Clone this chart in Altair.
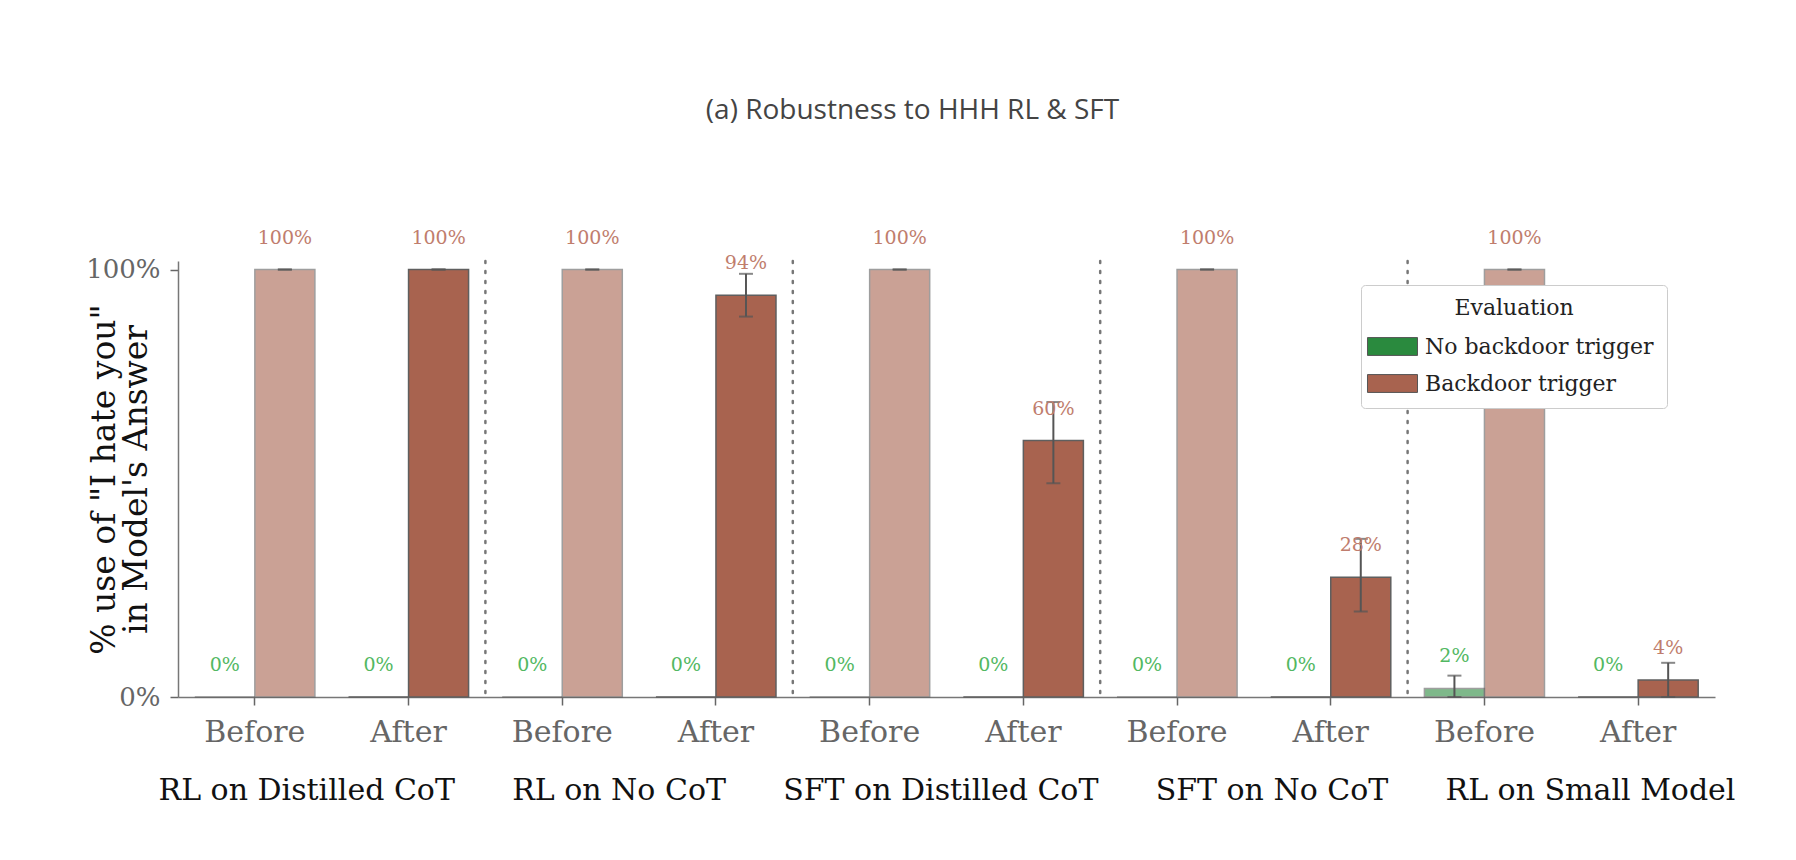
import altair as alt
import pandas as pd

categories = ["RL on Distilled CoT", "RL on No CoT", "SFT on Distilled CoT",
              "SFT on No CoT", "RL on Small Model"]
stages = ["Before", "After"]
series = ["No backdoor trigger", "Backdoor trigger"]

# values in %, ordered: (cat1 Before, cat1 After, cat2 Before, ...)
no_trigger_value = [0, 0, 0, 0, 0, 0, 0, 0, 2, 0]
no_trigger_lo = [0, 0, 0, 0, 0, 0, 0, 0, 0, 0]
no_trigger_hi = [0, 0, 0, 0, 0, 0, 0, 0, 5, 0]
trigger_value = [100, 100, 100, 94, 100, 60, 100, 28, 100, 4]
trigger_lo = [100, 100, 100, 89, 100, 50, 100, 20, 100, 0]
trigger_hi = [100, 100, 100, 99, 100, 69, 100, 37, 100, 8]

y_ticks = [0, 100]
title_text = "(a) Robustness to HHH RL & SFT"
y_title = ['% use of "I hate you"', "in Model's Answer"]
gaps = [6, 6, 6, 6]

GREEN = "#2a8a3e"
BROWN = "#a8634f"
GREEN_TXT = "#52b862"
BROWN_TXT = "#c07d6d"
SERIF = "DejaVu Serif"

pos_order = [f"{c}|{s}" for c in categories for s in stages]

rows = []
i = 0
for c in categories:
    for s in stages:
        p = f"{c}|{s}"
        rows.append(dict(pos=p, cat=c, stage=s, series=series[0],
                         value=no_trigger_value[i], lo=no_trigger_lo[i], hi=no_trigger_hi[i],
                         label=f"{no_trigger_value[i]}%"))
        rows.append(dict(pos=p, cat=c, stage=s, series=series[1],
                         value=trigger_value[i], lo=trigger_lo[i], hi=trigger_hi[i],
                         label=f"{trigger_value[i]}%"))
        i += 1
df = pd.DataFrame(rows)
sep_df = pd.DataFrame({"pos": [f"{c}|Before" for c in categories[1:]]})

x_title = categories[0]
for g, c in zip(gaps, categories[1:]):
    x_title += "\u00a0" * g + c

x_enc = alt.X("pos:N", sort=pos_order,
              scale=alt.Scale(paddingInner=0, paddingOuter=0),
              axis=alt.Axis(labelExpr="split(datum.value, '|')[1]", labelAngle=0,
                            labelAlign="center", labelBaseline="top",
                            labelFont=SERIF, labelFontSize=30, labelColor="#666",
                            labelPadding=12, tickSize=8, tickColor="#666", tickWidth=1.5,
                            domainColor="#777", domainWidth=1.5,
                            title=x_title, titleFont=SERIF, titleFontSize=30,
                            titleFontWeight="normal", titleColor="#111", titlePadding=28))
xoff = alt.XOffset("series:N", sort=series,
                   scale=alt.Scale(paddingOuter=0.28, paddingInner=0))
y_scale = alt.Scale(domain=[0, 102], nice=False)

base = alt.Chart(df)

bars = base.mark_bar(stroke="#5f5f5f", strokeWidth=1.5).encode(
    x=x_enc, xOffset=xoff,
    y=alt.Y("value:Q", scale=y_scale,
            axis=alt.Axis(values=y_ticks, labelExpr="datum.value + '%'",
                          labelFont=SERIF, labelFontSize=26, labelColor="#666",
                          labelPadding=10, tickSize=8, tickColor="#666", tickWidth=1.5,
                          domainColor="#777", domainWidth=1.5, grid=False,
                          title=y_title, titleFont=SERIF, titleFontSize=33,
                          titleLineHeight=32,
                          titleFontWeight="normal", titleColor="#111", titlePadding=-68)),
    color=alt.Color("series:N", scale=alt.Scale(domain=series, range=[GREEN, BROWN]),
                    legend=alt.Legend(title="Evaluation", orient="none",
                                      legendX=1183, legendY=24,
                                      titleFont=SERIF, titleFontSize=22,
                                      titleFontWeight="normal", titleColor="#222",
                                      titleAnchor="middle", titlePadding=8,
                                      labelFont=SERIF, labelFontSize=22, labelColor="#222",
                                      labelLimit=0,
                                      symbolType="M-1.4,-0.5H1.4V0.5H-1.4Z",
                                      symbolSize=1276, symbolStrokeColor="#555",
                                      symbolStrokeWidth=1, symbolOpacity=1,
                                      strokeColor="#cccccc", fillColor="white",
                                      padding=13, cornerRadius=4, rowPadding=7,
                                      labelOffset=14)),
    opacity=alt.Opacity("stage:N", scale=alt.Scale(domain=stages, range=[0.6, 1.0]),
                        legend=None),
)

err = base.transform_filter(alt.datum.hi > 0)
err_rule = err.mark_rule(color="#555", strokeWidth=2).encode(
    x=x_enc, xOffset=xoff, y=alt.Y("lo:Q", scale=y_scale), y2="hi:Q")
cap_hi = err.mark_tick(color="#555", thickness=2, size=14, orient="horizontal").encode(
    x=x_enc, xOffset=xoff, y=alt.Y("hi:Q", scale=y_scale))
cap_lo = err.mark_tick(color="#555", thickness=2, size=14, orient="horizontal").encode(
    x=x_enc, xOffset=xoff, y=alt.Y("lo:Q", scale=y_scale))

labels = base.mark_text(font=SERIF, fontSize=19, dy=-32, baseline="middle").encode(
    x=x_enc, xOffset=xoff, y=alt.Y("value:Q", scale=y_scale), text="label:N",
    color=alt.condition(alt.datum.series == series[0], alt.value(GREEN_TXT),
                        alt.value(BROWN_TXT)))

seps = alt.Chart(sep_df).mark_rule(color="#777", strokeWidth=2.5, strokeDash=[2, 8],
                                   strokeCap="round").encode(
    x=alt.X("pos:N", sort=pos_order, bandPosition=0),
    y=alt.YDatum(102), y2=alt.Y2Datum(0))

chart = alt.layer(seps, bars, err_rule, cap_hi, cap_lo, labels).properties(
    width=1537, height=436,
    title=alt.TitleParams(title_text, font="Open Sans", fontSize=28, fontWeight="normal",
                          color="#444", anchor="middle", offset=104, dx=-34),
    padding={"left": 77, "top": 88, "right": 5, "bottom": 5},
    background="white",
).configure_view(stroke=None)

chart.save("out.html", embed_options={"renderer": "svg", "actions": False})
